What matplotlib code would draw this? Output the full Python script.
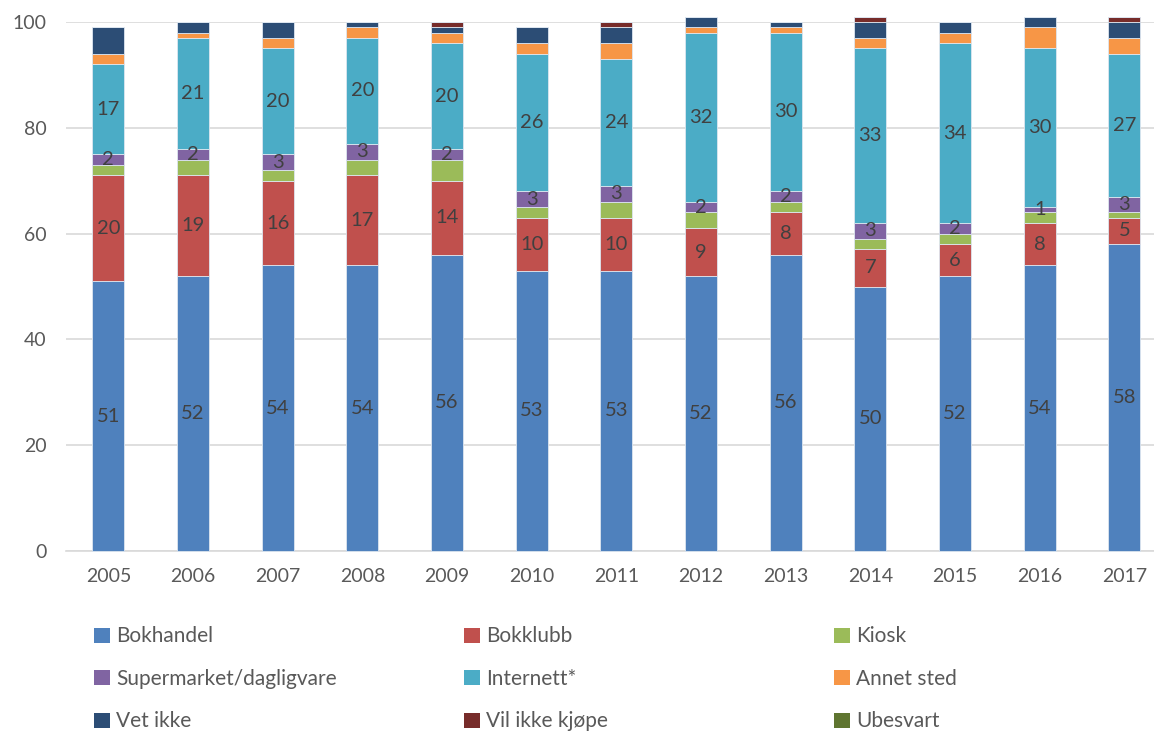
import matplotlib.pyplot as plt
from matplotlib.patches import Patch
import numpy as np

plt.rcParams['font.family'] = ['Lato', 'DejaVu Sans']

years = ['2005', '2006', '2007', '2008', '2009', '2010', '2011',
         '2012', '2013', '2014', '2015', '2016', '2017']

bokhandel   = [51, 52, 54, 54, 56, 53, 53, 52, 56, 50, 52, 54, 58]
bokklubb    = [20, 19, 16, 17, 14, 10, 10,  9,  8,  7,  6,  8,  5]
kiosk       = [ 2,  3,  2,  3,  4,  2,  3,  3,  2,  2,  2,  2,  1]
supermarket = [ 2,  2,  3,  3,  2,  3,  3,  2,  2,  3,  2,  1,  3]
internett   = [17, 21, 20, 20, 20, 26, 24, 32, 30, 33, 34, 30, 27]
annet       = [ 2,  1,  2,  2,  2,  2,  3,  1,  1,  2,  2,  4,  3]
vet_ikke    = [ 5,  2,  3,  1,  1,  3,  3,  2,  1,  3,  2,  2,  3]
vil_ikke    = [ 0,  0,  0,  0,  1,  0,  1,  0,  0,  1,  0,  0,  1]
ubesvart    = [ 0,  0,  0,  0,  0,  0,  0,  0,  0,  0,  0,  0,  0]

series = [
    ('Bokhandel', bokhandel, '#4F81BD', True),
    ('Bokklubb', bokklubb, '#C0504D', True),
    ('Kiosk', kiosk, '#9BBB59', False),
    ('Supermarket/dagligvare', supermarket, '#8064A2', True),
    ('Internett*', internett, '#4BACC6', True),
    ('Annet sted', annet, '#F79646', False),
    ('Vet ikke', vet_ikke, '#2C4D75', False),
    ('Vil ikke kjøpe', vil_ikke, '#772C2A', False),
    ('Ubesvart', ubesvart, '#5F7530', False),
]

fig = plt.figure(figsize=(11.54, 7.33), dpi=100)
ax = fig.add_axes([66 / 1154, 1 - 551 / 733, 1 - 66 / 1154, 529 / 733])

x = np.arange(len(years))
bottom = np.zeros(len(years))
for name, vals, col, show in series:
    vals = np.array(vals, dtype=float)
    bars = ax.bar(x, vals, 0.375, bottom=bottom, color=col, edgecolor='#dde6f0',
                  linewidth=0.6, clip_on=False, zorder=3)
    if show:
        for xi, b, v in zip(x, bottom, vals):
            if v > 0:
                ax.text(xi, b + v / 2, '%d' % v, ha='center', va='center',
                        fontsize=14.5, color='#404040', zorder=4)
    bottom += vals

ax.set_xlim(-0.5, 12.35)
ax.set_ylim(0, 100)
ax.set_yticks([0, 20, 40, 60, 80, 100])
ax.set_xticks(x)
ax.set_xticklabels(years)
ax.grid(axis='y', color='#d9d9d9', linewidth=1.2, zorder=0)
for s in ['top', 'right', 'left']:
    ax.spines[s].set_visible(False)
ax.spines['bottom'].set_color('#d9d9d9')
ax.spines['bottom'].set_linewidth(1.2)
ax.tick_params(length=0, labelsize=14, colors='#595959', pad=12)
ax.tick_params(axis='y', pad=14)

# legend: three columns, filled row by row
col_x = [84 / 1154, 454 / 1154, 824 / 1154]
for c in range(3):
    handles = []
    for r in range(3):
        name, vals, col, show = series[r * 3 + c]
        handles.append(Patch(facecolor=col, label=name))
    fig.legend(handles=handles, loc='upper left', bbox_to_anchor=(col_x[c], 1 - 616 / 733),
               frameon=False, fontsize=15, labelcolor='#595959', handlelength=0.75,
               handleheight=0.75, handletextpad=0.3, labelspacing=1.08, borderpad=0)

fig.savefig('out.png', dpi=100)
